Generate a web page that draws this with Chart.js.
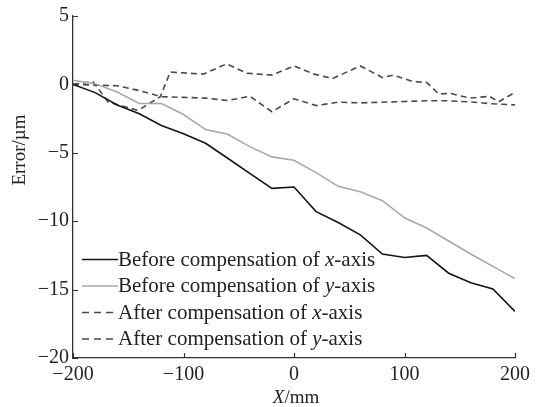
<!DOCTYPE html>
<html>
<head>
<meta charset="utf-8">
<script src="https://cdn.jsdelivr.net/npm/chart.js@4.4.1/dist/chart.umd.min.js"></script>
<style>
  html, body { margin: 0; padding: 0; background: #fff; }
  #wrap { position: relative; width: 536px; height: 407px; }
</style>
</head>
<body>
<div id="wrap"><canvas id="c" width="536" height="407"></canvas></div>
<script>
// Positions along the travel (mm) and measured positioning errors (µm)
const gridX = [-200,-180,-160,-140,-120,-100,-80,-60,-40,-20,0,20,40,60,80,100,120,140,160,180,200];
const beforeCompX = [0,-0.6,-1.5,-2.15,-3.0,-3.6,-4.3,-5.4,-6.5,-7.6,-7.5,-9.3,-10.1,-11.0,-12.4,-12.65,-12.5,-13.8,-14.5,-14.95,-16.6];
const beforeCompY = [0.3,0.05,-0.55,-1.4,-1.4,-2.2,-3.3,-3.65,-4.55,-5.3,-5.55,-6.45,-7.45,-7.85,-8.5,-9.75,-10.5,-11.45,-12.4,-13.3,-14.2];

const afterCompXPos = [-200,-182,-168,-141,-121,-112,-82,-61,-43,-20,0,18,35,60,80,90,108,120,131,141,159,177,185,200];
const afterCompX = [0,0.2,-1.3,-1.9,-0.9,0.9,0.75,1.5,0.82,0.68,1.35,0.75,0.43,1.35,0.5,0.68,0.2,0.15,-0.7,-0.65,-1.0,-0.87,-1.28,-0.58];
const afterCompY = [0,-0.05,-0.1,-0.45,-0.9,-0.95,-1.0,-1.18,-0.87,-2.0,-1.05,-1.55,-1.3,-1.35,-1.3,-1.25,-1.2,-1.2,-1.28,-1.42,-1.5];

const xTicks = [-200,-100,0,100,200];
const yTicks = [5,0,-5,-10,-15,-20];

const seriesNames = [
  ['Before compensation of ', 'x', '-axis'],
  ['Before compensation of ', 'y', '-axis'],
  ['After compensation of ', 'x', '-axis'],
  ['After compensation of ', 'y', '-axis']
];

const SERIF = '"Liberation Serif", "Times New Roman", serif';
const INK = '#222';
const AXIS = '#333';

const pts = (xs, ys) => xs.map((x, i) => ({ x, y: ys[i] }));
const minus = v => String(v).replace('-', '\u2212');

const datasets = [
  { data: pts(gridX, beforeCompX), borderColor: '#151515', borderWidth: 1.6 },
  { data: pts(gridX, beforeCompY), borderColor: '#a8a8a8', borderWidth: 1.6 },
  { data: pts(afterCompXPos, afterCompX), borderColor: '#4a4a4a', borderWidth: 1.6, borderDash: [6, 4] },
  { data: pts(gridX, afterCompY), borderColor: '#4a4a4a', borderWidth: 1.6, borderDash: [6, 4] }
].map(d => Object.assign({ pointRadius: 0, tension: 0, fill: false }, d));

// Inward tick marks, axis titles and the in-plot legend
const decor = {
  id: 'decor',
  afterDraw(chart) {
    const ctx = chart.ctx;
    const a = chart.chartArea;
    const sx = chart.scales.x, sy = chart.scales.y;
    ctx.save();
    ctx.strokeStyle = AXIS;
    ctx.lineWidth = 1.2;
    const tl = 5;
    ctx.beginPath();
    xTicks.forEach(v => {
      const px = Math.round(sx.getPixelForValue(v)) + 0.5;
      ctx.moveTo(px, a.bottom); ctx.lineTo(px, a.bottom - tl);
    });
    yTicks.forEach(v => {
      const py = Math.round(sy.getPixelForValue(v)) + 0.5;
      ctx.moveTo(a.left, py); ctx.lineTo(a.left + tl, py);
    });
    ctx.stroke();

    // y title
    ctx.fillStyle = INK;
    ctx.font = '19px ' + SERIF;
    ctx.textAlign = 'center';
    ctx.textBaseline = 'middle';
    ctx.save();
    ctx.translate(20, sy.getPixelForValue(-4.8));
    ctx.rotate(-Math.PI / 2);
    ctx.fillText('Error/\u00b5m', 0, 0);
    ctx.restore();

    // x title with italic X
    const cx = sx.getPixelForValue(0) + 2;
    ctx.textAlign = 'left';
    ctx.font = 'italic 19px ' + SERIF;
    const w1 = ctx.measureText('X').width;
    ctx.font = '19px ' + SERIF;
    const w2 = ctx.measureText('/mm').width;
    let x0 = cx - (w1 + w2) / 2;
    ctx.font = 'italic 19px ' + SERIF;
    ctx.fillText('X', x0, 398);
    ctx.font = '19px ' + SERIF;
    ctx.fillText('/mm', x0 + w1, 398);

    // legend
    const lx0 = a.left + 9, lx1 = a.left + 45;
    const rowY = [259, 285.5, 312, 338.5];
    const fs = 21;
    datasets.forEach((d, i) => {
      const y = rowY[i];
      ctx.save();
      ctx.strokeStyle = d.borderColor;
      ctx.lineWidth = 1.4;
      ctx.setLineDash(d.borderDash ? [7, 5] : []);
      ctx.beginPath();
      ctx.moveTo(lx0, y + 0.5); ctx.lineTo(lx1, y + 0.5);
      ctx.stroke();
      ctx.restore();
      let tx = lx1;
      seriesNames[i].forEach((part, k) => {
        ctx.font = (k === 1 ? 'italic ' : '') + fs + 'px ' + SERIF;
        ctx.fillText(part, tx, y + 1);
        tx += ctx.measureText(part).width;
      });
    });
    ctx.restore();
  }
};

new Chart(document.getElementById('c'), {
  type: 'line',
  data: { datasets },
  options: {
    responsive: false,
    animation: false,
    events: [],
    layout: { padding: { top: 13, right: 21, left: 0, bottom: 0 } },
    plugins: { legend: { display: false }, tooltip: { enabled: false } },
    scales: {
      x: {
        type: 'linear', min: -200, max: 200,
        afterBuildTicks: s => { s.ticks = xTicks.map(v => ({ value: v })); },
        afterFit: s => { s.height = 49; },
        grid: { display: false, drawTicks: false },
        border: { display: true, color: AXIS, width: 1.3 },
        ticks: { padding: 5, color: INK, font: { family: SERIF, size: 20 }, maxRotation: 0, callback: v => minus(v) }
      },
      y: {
        type: 'linear', min: -20, max: 5,
        afterBuildTicks: s => { s.ticks = yTicks.map(v => ({ value: v })); },
        afterFit: s => { s.width = 73; },
        grid: { display: false, drawTicks: false },
        border: { display: true, color: AXIS, width: 1.3 },
        ticks: { padding: 4, color: INK, font: { family: SERIF, size: 20 }, callback: v => minus(v) }
      }
    }
  },
  plugins: [decor]
});
</script>
</body>
</html>
